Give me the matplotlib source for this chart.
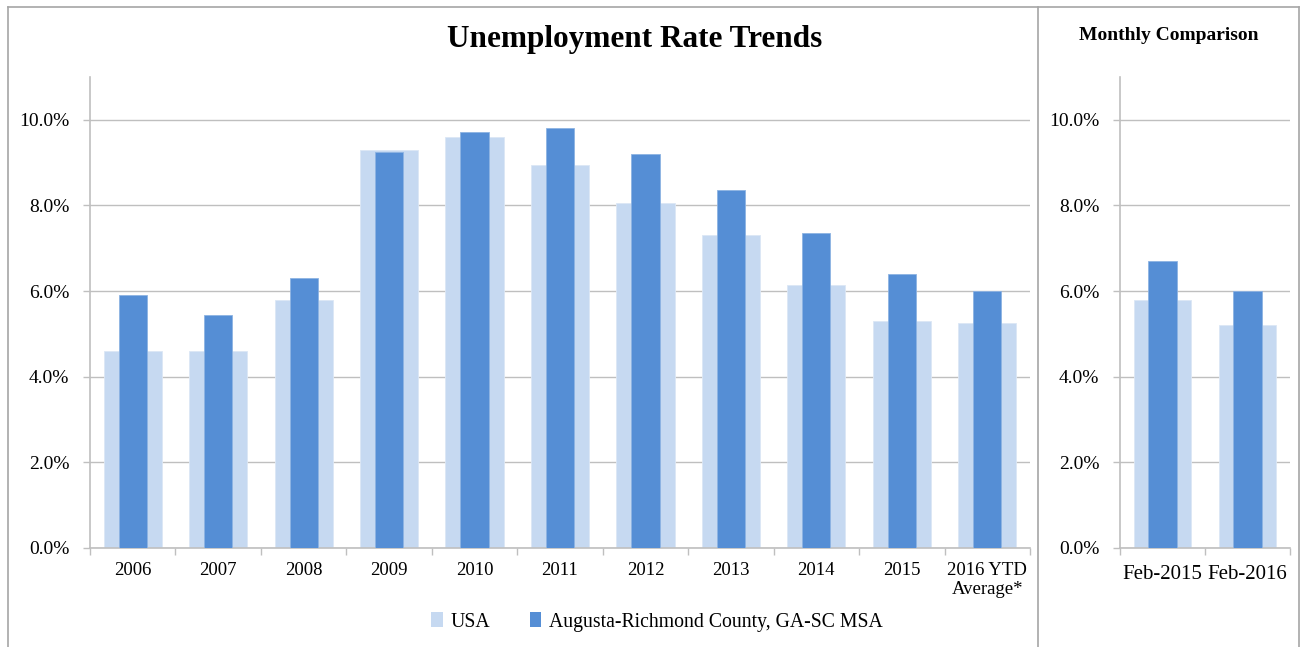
import matplotlib
matplotlib.use("Agg")
import matplotlib.pyplot as plt
from matplotlib.lines import Line2D
from matplotlib.patches import Patch
import numpy as np

years = ["2006", "2007", "2008", "2009", "2010", "2011", "2012", "2013", "2014", "2015", "2016 YTD\nAverage*"]
usa = [4.6, 4.6, 5.8, 9.3, 9.6, 8.95, 8.05, 7.3, 6.15, 5.3, 5.25]
augusta = [5.9, 5.45, 6.3, 9.25, 9.72, 9.8, 9.2, 8.35, 7.35, 6.4, 6.0]

months = ["Feb-2015", "Feb-2016"]
usa_m = [5.8, 5.2]
augusta_m = [6.7, 6.0]

series_names = ["USA", "Augusta-Richmond County, GA-SC MSA"]

C_USA = "#C6D9F1"
C_AUG = "#558ED5"
GRID = "#BFBFBF"
FONT = ["Liberation Serif", "DejaVu Serif"]

plt.rcParams['font.family'] = FONT

W, H = 1303, 647
fig = plt.figure(figsize=(W / 100, H / 100), dpi=100)


def setup(ax, cats, u, a, xfs, xpad):
    x = np.arange(len(cats))
    ax.bar(x, u, width=0.68, color=C_USA, edgecolor="#DCE7F5", linewidth=0.6, zorder=2)
    ax.bar(x, a, width=0.33, color=C_AUG, edgecolor="#8DB3E2", linewidth=0.6, zorder=3)
    ax.set_xlim(-0.5, len(cats) - 0.5)
    ax.set_ylim(0, 11)
    ax.set_yticks(np.arange(0, 10.1, 2))
    ax.set_yticklabels([f"{v:.1f}%" for v in np.arange(0, 10.1, 2)], fontsize=14)
    ax.yaxis.grid(True, color=GRID, linewidth=1.0, zorder=0)
    ax.set_axisbelow(True)
    ax.set_xticks(x)
    ax.set_xticklabels(cats, fontsize=xfs, linespacing=1.15)
    ax.tick_params(axis='x', length=0, pad=xpad)
    ax.tick_params(axis='y', length=5, color=GRID, width=1, pad=10)
    ax.set_xticks(np.arange(-0.5, len(cats)), minor=True)
    ax.tick_params(axis='x', which='minor', length=5, color=GRID, width=1)
    for s in ['top', 'right']:
        ax.spines[s].set_visible(False)
    for s in ['left', 'bottom']:
        ax.spines[s].set_color(GRID)
        ax.spines[s].set_linewidth(1.2)


ax1 = fig.add_axes([90 / W, 1 - 548 / H, (1030 - 90) / W, (548 - 77) / H])
setup(ax1, years, usa, augusta, 13.5, 10)

ax2 = fig.add_axes([1120 / W, 1 - 548 / H, (1290 - 1120) / W, (548 - 77) / H])
setup(ax2, months, usa_m, augusta_m, 15, 12)

fig.text(635 / W, 1 - 39 / H, "Unemployment Rate Trends", ha='center', va='center',
         fontsize=22.5, fontweight='bold')
fig.text(1169 / W, 1 - 35 / H, "Monthly Comparison", ha='center', va='center',
         fontsize=14, fontweight='bold')

handles = [Patch(facecolor=C_USA, edgecolor='none'), Patch(facecolor=C_AUG, edgecolor='none')]
fig.legend(handles, series_names, loc='center', bbox_to_anchor=(657 / W, 1 - 622 / H),
           ncol=2, frameon=False, fontsize=14.2, handlelength=0.6, handleheight=0.75,
           handletextpad=0.4, columnspacing=2.0)

# frame lines
FR = "#A6A6A6"
fig.add_artist(Line2D([8 / W, 8 / W], [0, 1 - 7 / H], transform=fig.transFigure, color=FR, lw=1.2))
fig.add_artist(Line2D([1299 / W, 1299 / W], [0, 1 - 7 / H], transform=fig.transFigure, color=FR, lw=1.2))
fig.add_artist(Line2D([8 / W, 1299 / W], [1 - 7 / H, 1 - 7 / H], transform=fig.transFigure, color=FR, lw=1.2))
fig.add_artist(Line2D([1038 / W, 1038 / W], [0, 1 - 7 / H], transform=fig.transFigure, color=FR, lw=1.2))

fig.savefig("out.png", dpi=100)
